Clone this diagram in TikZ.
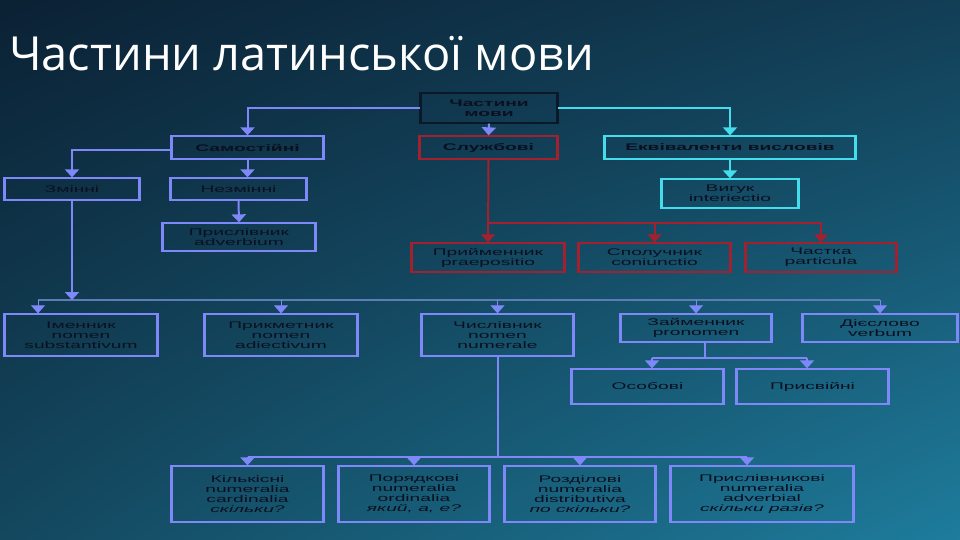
\documentclass[tikz,border=0pt]{standalone}
\usepackage{fontspec}
\usetikzlibrary{arrows.meta,calc,shadings}
\setmainfont{Open Sans}
\newfontfamily\titlefont{Open Sans}
\newfontfamily\boxfont[FakeStretch=2.0]{Liberation Sans}
\definecolor{bgTL}{HTML}{0B2134}
\definecolor{bgTR}{HTML}{123E56}
\definecolor{bgBL}{HTML}{13485F}
\definecolor{bgBR}{HTML}{1E7C9C}
\definecolor{peri}{HTML}{7F88F8}
\definecolor{busc}{HTML}{5D7DB8}
\definecolor{redc}{HTML}{A3202E}
\definecolor{cyanc}{HTML}{45DCEB}
\definecolor{rootc}{HTML}{0B1828}
\definecolor{txt}{HTML}{0A1020}
\tikzset{
  sides/.style={append after command={\pgfextra{\draw[line width=2.6pt, draw=#1]
      (\tikzlastnode.north west) -- (\tikzlastnode.south west)
      (\tikzlastnode.north east) -- (\tikzlastnode.south east);}}},
  pbox/.style={draw=peri, sides=peri, line width=1.3pt, text=txt, align=center, inner sep=1pt,
    font=\boxfont\fontsize{9.6}{10}\selectfont},
  rbox/.style={draw=redc, sides=redc, line width=1.3pt, text=txt, align=center, inner sep=1pt,
    font=\boxfont\fontsize{9.6}{10}\selectfont},
  cbox/.style={draw=cyanc, sides=cyanc, line width=1.3pt, text=txt, align=center, inner sep=1pt,
    font=\boxfont\fontsize{9.6}{10}\selectfont},
  rootbox/.style={draw=rootc, sides=rootc, line width=1.3pt, text=txt, align=center, inner sep=1pt},
  bld/.style={font=\boxfont\bfseries\fontsize{9.6}{10}\selectfont},
  parr/.style={draw=peri, line width=2pt, -{Triangle[width=14pt,length=8pt]}},
  tarr/.style={draw=peri, line width=1pt, -{Triangle[width=14pt,length=8pt]}},
  carr/.style={draw=cyanc, line width=2pt, -{Triangle[width=14pt,length=8pt]}},
  rarr/.style={draw=redc, line width=2pt, -{Triangle[width=14pt,length=8pt]}},
  pline/.style={draw=peri, line width=2pt},
  busline/.style={draw=busc, line width=1.5pt},
}
\begin{document}
\begin{tikzpicture}[x=1pt,y=-1pt]
\shade[upper left=bgTL, upper right=bgTR, lower left=bgBL, lower right=bgBR] (0,0) rectangle (960,540);
\useasboundingbox (0,0) rectangle (960,540);

\node[anchor=base west, text=white, inner sep=0, font=\titlefont\fontsize{47}{50}\selectfont] (title) at (9,71) {Частини латинської мови};

% level 1
\node[rootbox, bld, minimum width=136, minimum height=30] (root) at (489,108) {Частини\\мови};
\node[pbox, bld, minimum width=151, minimum height=23] (sam) at (247.5,147.5) {Самостійні};
\node[rbox, bld, minimum width=137, minimum height=23] (sluzh) at (488.5,147.5) {Службові};
\node[cbox, bld, minimum width=250, minimum height=23] (ekv) at (730,147.5) {Еквіваленти висловів};

% level 2
\node[pbox, minimum width=134, minimum height=22] (zminni) at (72,189) {Змінні};
\node[pbox, minimum width=135, minimum height=22] (nezm) at (238.5,189) {Незмінні};
\node[pbox, minimum width=152, minimum height=28] (prysl) at (239,237) {Прислівник\\adverbium};
\node[cbox, minimum width=136, minimum height=29] (vyhuk) at (730,193.5) {Вигук\\interiectio};
\node[rbox, minimum width=152, minimum height=29] (pryim) at (488,257.5) {Прийменник\\praepositio};
\node[rbox, minimum width=151, minimum height=29] (spol) at (654.5,257.5) {Сполучник\\coniunctio};
\node[rbox, minimum width=150, minimum height=29] (chastka) at (821,257.5) {Частка\\particula};

% level 3
\node[pbox, minimum width=152, minimum height=42] (imen) at (81,335) {Іменник\\nomen\\substantivum};
\node[pbox, minimum width=152, minimum height=42] (prykm) at (281,335) {Прикметник\\nomen\\adiectivum};
\node[pbox, minimum width=151, minimum height=42] (chysl) at (497.5,335) {Числівник\\nomen\\numerale};
\node[pbox, minimum width=150, minimum height=28] (zaim) at (696,328) {Займенник\\pronomen};
\node[pbox, minimum width=154, minimum height=28] (dies) at (880,328) {Дієслово\\verbum};
\node[pbox, minimum width=151, minimum height=35] (osob) at (647.5,386.5) {Особові};
\node[pbox, minimum width=151, minimum height=35] (prysv) at (812.5,386.5) {Присвійні};

% level 4
\node[pbox, minimum width=151, minimum height=56] (kilk) at (247.5,494) {Кількісні\\numeralia\\cardinalia\\\textit{скільки?}};
\node[pbox, minimum width=150, minimum height=56] (poryad) at (414,494) {Порядкові\\numeralia\\ordinalia\\\textit{який, а, е?}};
\node[pbox, minimum width=150, minimum height=56] (rozdil) at (580,494) {Розділові\\numeralia\\distributiva\\\textit{по скільки?}};
\node[pbox, minimum width=182, minimum height=56] (pryslch) at (762,494) {Прислівникові\\numeralia\\adverbial\\\textit{скільки разів?}};

% connectors from root
\draw[parr] (root.west) -| (sam.north);
\draw[parr] (root.south) -- (sluzh.north);
\draw[carr] (root.east) -| (ekv.north);

% Samostiini
\draw[parr] ([yshift=-2.5pt]sam.west) -| (zminni.north);
\draw[parr] (sam.south) -- (sam.south |- nezm.north);
\draw[parr] (nezm.south) -- (prysl.north);

% Ekvivalenty
\draw[carr] (ekv.south) -- (vyhuk.north);

% Sluzhbovi
\coordinate (rb) at (488.5,223);
\draw[rarr] (sluzh.south) -- (pryim.north);
\draw[rarr] (rb) -| (spol.north);
\draw[rarr] (rb) -| (chastka.north);

% main bus
\coordinate (bus) at (0,300);
\coordinate (iA) at ([xshift=-43pt]imen.north);
\draw[busline] (iA |- bus) -- (dies.north |- bus);
\draw[parr] (zminni.south) -- (zminni.south |- bus);
\draw[tarr] (iA |- bus) -- (iA);
\draw[tarr] (prykm.north |- bus) -- (prykm.north);
\draw[tarr] (chysl.north |- bus) -- (chysl.north);
\draw[tarr] (zaim.north |- bus) -- (zaim.north);
\draw[tarr] (dies.north |- bus) -- (dies.north);

% Zaimennyk
\coordinate (bus3) at (0,358);
\coordinate (zA) at ([xshift=9pt]zaim.south);
\coordinate (oA) at ([xshift=4.5pt]osob.north);
\coordinate (pA2) at ([xshift=-5.5pt]prysv.north);
\draw[pline] (zA) -- (zA |- bus3);
\draw[pline] (oA |- bus3) -- (pA2 |- bus3);
\draw[parr] (oA |- bus3) -- (oA);
\draw[parr] (pA2 |- bus3) -- (pA2);

% Chyslivnyk
\coordinate (bus2) at (0,457);
\coordinate (pA) at ([xshift=-15pt]pryslch.north);
\draw[pline] (chysl.south) -- (chysl.south |- bus2);
\draw[pline] (kilk.north |- bus2) -- (pA |- bus2);
\draw[parr] (kilk.north |- bus2) -- (kilk.north);
\draw[parr] (poryad.north |- bus2) -- (poryad.north);
\draw[parr] (rozdil.north |- bus2) -- (rozdil.north);
\draw[parr] (pA |- bus2) -- (pA);
\end{tikzpicture}
\end{document}
